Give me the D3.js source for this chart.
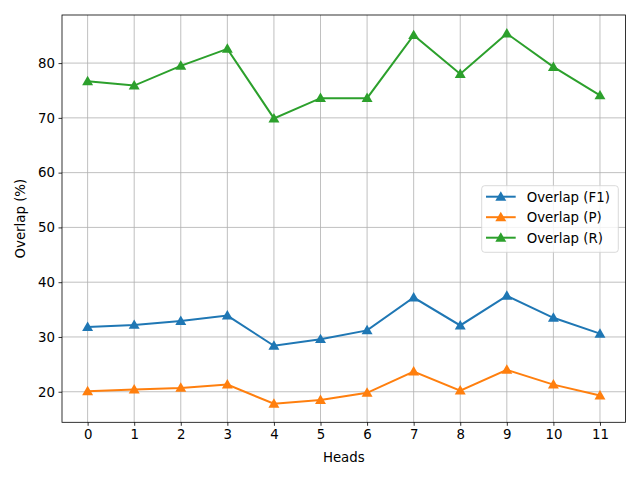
<!DOCTYPE html>
<html>
<head>
<meta charset="utf-8">
<script src="https://cdn.jsdelivr.net/npm/d3@7"></script>
<style>
  body { margin: 0; background: #fff; }
  svg text { font-family: "DejaVu Sans", sans-serif; fill: #000; }
</style>
</head>
<body>
<div id="chart"></div>
<script>
// values
var heads = [0, 1, 2, 3, 4, 5, 6, 7, 8, 9, 10, 11];
var overlapF1 = [31.8, 32.2, 32.9, 33.9, 28.4, 29.6, 31.2, 37.2, 32.1, 37.5, 33.5, 30.6];
var overlapP = [20.1, 20.4, 20.7, 21.3, 17.8, 18.5, 19.8, 23.7, 20.2, 24.0, 21.3, 19.3];
var overlapR = [76.7, 75.9, 79.5, 82.6, 69.9, 73.6, 73.6, 85.1, 78.0, 85.4, 79.3, 74.1];
var yTicks = [20, 30, 40, 50, 60, 70, 80];

var series = [
    {name: "Overlap (F1)", values: overlapF1, color: "#1f77b4"},
    {name: "Overlap (P)", values: overlapP, color: "#ff7f0e"},
    {name: "Overlap (R)", values: overlapR, color: "#2ca02c"}
];

var width = 640, height = 480;
var margin = {left: 62, right: 14.4, top: 15, bottom: 57.7};

var svg = d3.select("#chart").append("svg")
    .attr("width", width).attr("height", height);

// matplotlib-style auto limits with 5% margins
var all = overlapF1.concat(overlapP, overlapR);
var ymin = d3.min(all), ymax = d3.max(all);
var pad = (ymax - ymin) * 0.05;

var x = d3.scaleLinear()
    .domain([-0.55, 11.55])
    .range([margin.left, width - margin.right]);
var y = d3.scaleLinear()
    .domain([ymin - pad, ymax + pad])
    .range([height - margin.bottom, margin.top]);

// grid
var grid = svg.append("g").attr("stroke", "#b0b0b0").attr("stroke-width", 0.8);
grid.selectAll(".gx").data(heads).enter().append("line")
    .attr("x1", function (d) { return x(d); }).attr("x2", function (d) { return x(d); })
    .attr("y1", y.range()[0]).attr("y2", y.range()[1]);
grid.selectAll(".gy").data(yTicks).enter().append("line")
    .attr("y1", function (d) { return y(d); }).attr("y2", function (d) { return y(d); })
    .attr("x1", x.range()[0]).attr("x2", x.range()[1]);

// axes
var xAxis = svg.append("g")
    .attr("transform", "translate(0," + y.range()[0] + ")")
    .call(d3.axisBottom(x).tickValues(heads).tickFormat(d3.format("d")).tickSize(3.5).tickPadding(3.5));
var yAxis = svg.append("g")
    .attr("transform", "translate(" + x.range()[0] + ",0)")
    .call(d3.axisLeft(y).tickValues(yTicks).tickSize(3.5).tickPadding(3.5));
[xAxis, yAxis].forEach(function (a) {
    a.select(".domain").remove();
    a.selectAll("line").attr("stroke", "#000").attr("stroke-width", 0.8);
    a.selectAll("text").style("font-family", "DejaVu Sans").style("font-size", "13.33px").attr("fill", "#000");
});

var line = d3.line()
    .x(function (d, i) { return x(heads[i]); })
    .y(function (d) { return y(d); });

var tri = d3.symbol().type(d3.symbolTriangle).size(52);

series.forEach(function (s) {
    svg.append("path").datum(s.values)
        .attr("d", line)
        .attr("fill", "none")
        .attr("stroke", s.color)
        .attr("stroke-width", 2);
    svg.append("g").selectAll("path").data(s.values).enter().append("path")
        .attr("d", tri)
        .attr("transform", function (d, i) { return "translate(" + x(heads[i]) + "," + (y(d) + 0.8) + ")"; })
        .attr("fill", s.color);
});

// frame
svg.append("rect")
    .attr("x", x.range()[0]).attr("y", y.range()[1])
    .attr("width", x.range()[1] - x.range()[0])
    .attr("height", y.range()[0] - y.range()[1])
    .attr("fill", "none").attr("stroke", "#000").attr("stroke-width", 0.8);

// labels
svg.append("text")
    .attr("x", (x.range()[0] + x.range()[1]) / 2).attr("y", 462)
    .attr("text-anchor", "middle").style("font-size", "13.33px")
    .text("Heads");
svg.append("text")
    .attr("transform", "translate(25," + ((y.range()[0] + y.range()[1]) / 2) + ") rotate(-90)")
    .attr("text-anchor", "middle").style("font-size", "13.33px")
    .text("Overlap (%)");

// legend
var legend = svg.append("g");
legend.append("rect")
    .attr("x", 481.7).attr("y", 185.7).attr("width", 136.6).attr("height", 66.6)
    .attr("rx", 3).attr("fill", "#fff").attr("fill-opacity", 0.8)
    .attr("stroke", "#d0d0d0").attr("stroke-width", 0.8);
series.forEach(function (s, i) {
    var cy = 196.7 + i * 20.5;
    legend.append("line")
        .attr("x1", 486).attr("x2", 515.7).attr("y1", cy).attr("y2", cy)
        .attr("stroke", s.color).attr("stroke-width", 2);
    legend.append("path").attr("d", tri)
        .attr("transform", "translate(500.8," + (cy + 0.8) + ")")
        .attr("fill", s.color);
    legend.append("text")
        .attr("x", 526.7).attr("y", cy + 4.8)
        .style("font-size", "13.33px")
        .text(s.name);
});
</script>
</body>
</html>
